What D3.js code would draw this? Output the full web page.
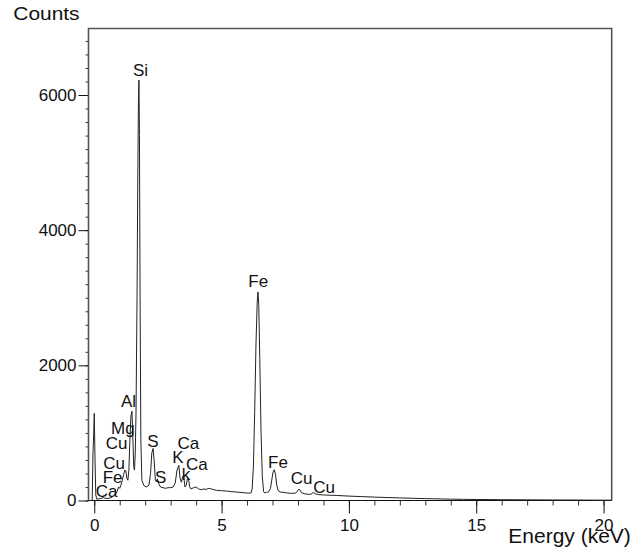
<!DOCTYPE html>
<html><head><meta charset="utf-8">
<script src="https://cdn.jsdelivr.net/npm/d3@7"></script>
<style>
body{margin:0;background:#fff}
svg{display:block}
text{font-family:"Liberation Sans",Arial,Helvetica,sans-serif;fill:#111}
</style>
</head><body>
<svg id="chart" width="643" height="553"></svg>
<script>
// Spectrum (energy in keV, counts)
const energy = [-0.08,-0.05,-0.02,0.00,0.03,0.06,0.10,0.20,0.30,0.35,0.40,0.50,0.60,0.70,0.80,0.90,0.95,1.00,1.05,1.10,1.15,1.20,1.24,1.28,1.32,1.36,1.40,1.44,1.48,1.51,1.55,1.58,1.61,1.64,1.68,1.71,1.735,1.755,1.775,1.80,1.83,1.87,1.95,2.05,2.15,2.21,2.26,2.31,2.35,2.40,2.44,2.48,2.53,2.60,2.70,2.80,2.90,3.00,3.10,3.18,3.25,3.32,3.37,3.42,3.47,3.51,3.56,3.61,3.66,3.70,3.75,3.80,3.90,4.00,4.10,4.20,4.30,4.40,4.50,4.60,4.70,4.80,4.90,5.00,5.20,5.40,5.60,5.80,6.00,6.10,6.15,6.20,6.25,6.30,6.35,6.40,6.43,6.46,6.50,6.55,6.60,6.65,6.70,6.76,6.85,6.92,6.97,7.02,7.07,7.12,7.17,7.22,7.30,7.45,7.60,7.75,7.90,7.97,8.02,8.07,8.14,8.25,8.40,8.50,8.60,8.68,8.80,9.00,9.50,10.0,10.5,11.0,11.5,12.0,12.5,13.0,13.5,14.0,14.5,15.0,16.0,17.0,18.0,19.0,20.0,20.3];
const counts = [0,700,1000,1290,600,80,20,25,35,45,35,30,35,50,80,130,200,180,230,300,380,450,440,330,300,450,900,1250,1320,1000,500,450,700,1300,3000,4800,5900,6220,5400,3000,900,300,220,200,230,400,700,770,600,300,280,320,250,200,190,180,190,190,200,260,450,520,330,270,350,370,200,220,330,320,200,170,190,200,170,160,170,165,180,170,160,150,148,145,140,130,125,118,110,110,110,170,500,1300,2300,2950,3085,2900,2100,1000,350,130,110,120,130,180,300,420,455,380,220,150,125,120,110,105,110,130,165,160,115,100,92,92,118,100,88,82,75,65,58,50,44,38,33,28,24,20,17,15,12,10,8,7,5,5];

const yMajorTicks = [0,2000,4000,6000];
const yMinorTicks = d3.range(0,7000,200);
const xMajorTicks = [0,5,10,15,20];
const xMinorTicks = d3.range(0,21,1);

// Peak labels: text, energy (keV) and counts at the label's left baseline
const labelText   = ["Si","Al","Mg","Cu","Cu","Fe","Ca","S","S","Ca","K","Ca","k","Fe","Fe","Cu","Cu"];
const labelEnergy = [1.522,1.050,0.658,0.450,0.355,0.332,0.057,2.083,2.386,3.269,3.065,3.603,3.434,6.050,6.823,7.714,8.602];
const labelCounts = [6281,1388,984,755,459,259,59,792,259,769,555,451,296,3166,481,244,111];

const svg = d3.select("#chart");
const pLeft = 88.5, pRight = 611.7, pTop = 28.5, pBottom = 500.5;
const x = d3.scaleLinear().domain([-0.226, 20.32]).range([pLeft, pRight]);
const y = d3.scaleLinear().domain([0, 6984]).range([pBottom, pTop]);

// Y axis minor ticks
svg.append("g").attr("transform",`translate(${pLeft},0)`)
  .call(d3.axisLeft(y).tickValues(yMinorTicks).tickSize(3).tickFormat(""))
  .call(g=>g.select(".domain").remove())
  .call(g=>g.selectAll("line").attr("stroke","#333"));
// Y axis major ticks
svg.append("g").attr("transform",`translate(${pLeft},0)`)
  .call(d3.axisLeft(y).tickValues(yMajorTicks).tickSize(10).tickPadding(2).tickFormat(d3.format("d")))
  .call(g=>g.select(".domain").remove())
  .call(g=>g.selectAll("line").attr("stroke","#111"))
  .call(g=>g.selectAll("text").attr("font-size",17).attr("fill","#111")
     .attr("font-family","Liberation Sans, Arial, sans-serif"));

// X axis minor ticks
svg.append("g").attr("transform",`translate(0,${pBottom})`)
  .call(d3.axisBottom(x).tickValues(xMinorTicks).tickSize(5).tickFormat(""))
  .call(g=>g.select(".domain").remove())
  .call(g=>g.selectAll("line").attr("stroke","#333"));
// X axis major ticks
svg.append("g").attr("transform",`translate(0,${pBottom})`)
  .call(d3.axisBottom(x).tickValues(xMajorTicks).tickSize(13).tickPadding(5).tickFormat(d3.format("d")))
  .call(g=>g.select(".domain").remove())
  .call(g=>g.selectAll("line").attr("stroke","#111"))
  .call(g=>g.selectAll("text").attr("font-size",17).attr("fill","#111")
     .attr("font-family","Liberation Sans, Arial, sans-serif"));

// Frame
svg.append("path")
  .attr("d",`M${pLeft},${pBottom}V${pTop}H${pRight}V${pBottom}`)
  .attr("fill","none").attr("stroke","#555").attr("stroke-width",1.6);
svg.append("line").attr("x1",pLeft).attr("x2",pRight).attr("y1",pBottom).attr("y2",pBottom)
  .attr("stroke","#111").attr("stroke-width",1.2);

// Spectrum
const pts = energy.map((e,i)=>[e,counts[i]]);
svg.append("path").datum(pts)
  .attr("d", d3.line().x(d=>x(d[0])).y(d=>y(d[1])))
  .attr("fill","none").attr("stroke","#222").attr("stroke-width",1)
  .attr("stroke-linejoin","round");

// Peak labels
svg.append("g").selectAll("text").data(labelText).join("text")
  .attr("x",(d,i)=>x(labelEnergy[i]))
  .attr("y",(d,i)=>y(labelCounts[i]))
  .attr("font-size",17)
  .text(d=>d);

// Axis titles
svg.append("text").attr("transform","translate(13.3,19.5) scale(1.1,1)")
  .attr("font-size",19).text("Counts");
svg.append("text").attr("x",508.3).attr("y",543)
  .attr("font-size",21).text("Energy (keV)");
</script>
</body></html>
